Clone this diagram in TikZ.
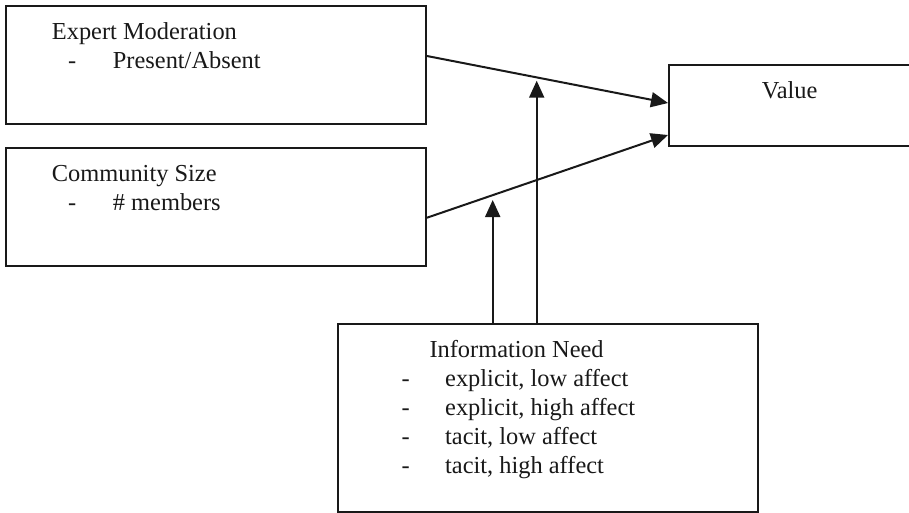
\documentclass[tikz,border=0pt]{standalone}
\usepackage{fontspec}
\setmainfont{Liberation Serif}
\usetikzlibrary{arrows.meta,calc}
\begin{document}
\begin{tikzpicture}[x=1pt,y=-1pt,
  box/.style={draw=black!90,line width=2pt,rectangle,inner sep=0pt,anchor=north west},
  lbl/.style={inner sep=0pt,anchor=base west,font=\fontsize{24.4}{29}\selectfont,text=black!90},
  link/.style={line width=2pt,draw=black!90,-{Triangle[length=17pt,width=15pt]}}]
\useasboundingbox (0,0) rectangle (909,512);
\clip (0,0) rectangle (909,512);
\fill[white] (0,0) rectangle (909,512);

% boxes
\node[box,minimum width=420pt,minimum height=118pt] (em) at (5,5) {};
\node[box,minimum width=420pt,minimum height=118pt] (cs) at (5,147) {};
\node[box,minimum width=260pt,minimum height=81pt] (val) at (668,64) {};
\node[box,minimum width=420pt,minimum height=188pt] (info) at (337,323) {};

% box texts
\node[lbl] (emT) at (51.7,39.5) {Expert Moderation};
\node[lbl] (emD) at (68,68.5) {-};
\node[lbl] (emI) at (112.7,68.5) {Present/Absent};

\node[lbl] (csT) at (51.7,181) {Community Size};
\node[lbl] (csD) at (68,210) {-};
\node[lbl] (csI) at (112.7,210) {\# members};

\node[lbl] (valT) at (761.7,98.5) {Value};

\node[lbl] (inT) at (429.3,357) {Information Need};
\node[lbl] (inD1) at (401.5,386) {-};
\node[lbl] (inI1) at (445,386) {explicit, low affect};
\node[lbl] (inD2) at (401.5,415) {-};
\node[lbl] (inI2) at (445,415) {explicit, high affect};
\node[lbl] (inD3) at (401.5,444) {-};
\node[lbl] (inI3) at (445,444) {tacit, low affect};
\node[lbl] (inD4) at (401.5,473) {-};
\node[lbl] (inI4) at (445,473) {tacit, high affect};

% connectors
\coordinate (t1) at (492.7,200);
\coordinate (t2) at (536.7,80.7);
\draw[link] ($(em.east)+(0,-9)$) -- ($(val.north west)+(0,39)$);
\draw[link] ($(cs.east)+(0,10.7)$) -- ($(val.north west)+(0,71)$);
\draw[link] (info.north -| t1) -- (t1);
\draw[link] (info.north -| t2) -- (t2);
\end{tikzpicture}
\end{document}
